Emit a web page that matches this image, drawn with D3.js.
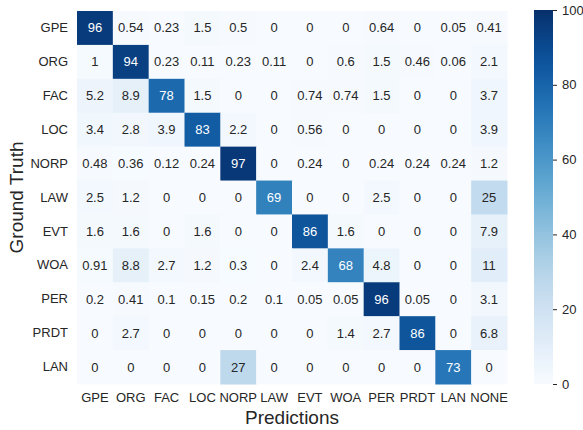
<!DOCTYPE html>
<html>
<head>
<meta charset="utf-8">
<script src="https://cdn.jsdelivr.net/npm/d3@7"></script>
<style>
  body { margin: 0; background: #fff; }
  svg { font-family: "Liberation Sans", Arial, sans-serif; }
</style>
</head>
<body>
<svg id="chart" width="583" height="430"></svg>
<script>
const labels = ['GPE', 'ORG', 'FAC', 'LOC', 'NORP', 'LAW', 'EVT', 'WOA', 'PER', 'PRDT', 'LAN', 'NONE']
const truthLabels = ['GPE', 'ORG', 'FAC', 'LOC', 'NORP', 'LAW', 'EVT', 'WOA', 'PER', 'PRDT', 'LAN']

// rows = ground truth, columns = predictions (percent)
const matrix = [
    [96, 0.54, 0.23, 1.5, 0.5, 0, 0, 0, 0.64, 0, 0.05, 0.41],
    [1, 94, 0.23, 0.11, 0.23, 0.11, 0, 0.6, 1.5, 0.46, 0.06, 2.1],
    [5.2, 8.9, 78, 1.5, 0, 0, 0.74, 0.74, 1.5, 0, 0, 3.7],
    [3.4, 2.8, 3.9, 83, 2.2, 0, 0.56, 0, 0, 0, 0, 3.9],
    [0.48, 0.36, 0.12, 0.24, 97, 0, 0.24, 0, 0.24, 0.24, 0.24, 1.2],
    [2.5, 1.2, 0, 0, 0, 69, 0, 0, 2.5, 0, 0, 25],
    [1.6, 1.6, 0, 1.6, 0, 0, 86, 1.6, 0, 0, 0, 7.9],
    [0.91, 8.8, 2.7, 1.2, 0.3, 0, 2.4, 68, 4.8, 0, 0, 11],
    [0.2, 0.41, 0.1, 0.15, 0.2, 0.1, 0.05, 0.05, 96, 0.05, 0, 3.1],
    [0, 2.7, 0, 0, 0, 0, 0, 1.4, 2.7, 86, 0, 6.8],
    [0, 0, 0, 0, 27, 0, 0, 0, 0, 0, 73, 0]
]

const colorTicks = [0, 20, 40, 60, 80, 100]

const svg = d3.select('#chart')
const textColor = '#262626'

const dims = { left: 77, right: 507, top: 11, bottom: 384 }

const x = d3.scaleBand().domain(labels).range([dims.left, dims.right])
const y = d3.scaleBand().domain(truthLabels).range([dims.top, dims.bottom])
const color = d3.scaleSequential(d3.interpolateBlues).domain([0, 100])

const cells = []
matrix.forEach((row, i) => {
    row.forEach((v, j) => cells.push({ truth: truthLabels[i], pred: labels[j], value: v }))
})

/// cells ////////
const cellGroup = svg.append('g')
cellGroup.selectAll('rect')
    .data(cells)
    .join('rect')
    .attr('x', d => x(d.pred))
    .attr('y', d => y(d.truth))
    .attr('width', x.bandwidth() + 0.5)
    .attr('height', y.bandwidth() + 0.5)
    .attr('fill', d => color(d.value))

cellGroup.selectAll('text')
    .data(cells)
    .join('text')
    .attr('x', d => x(d.pred) + x.bandwidth() / 2)
    .attr('y', d => y(d.truth) + y.bandwidth() / 2)
    .attr('text-anchor', 'middle')
    .attr('dominant-baseline', 'central')
    .attr('font-size', 13)
    .attr('fill', d => d.value > 55 ? '#fff' : textColor)
    .text(d => d.value)

/// axes ////////
const xAxis = svg.append('g')
    .attr('transform', `translate(0,${dims.bottom})`)
    .call(d3.axisBottom(x).tickSize(0).tickPadding(9))
xAxis.select('.domain').remove()
xAxis.selectAll('text').attr('font-size', 13).attr('fill', textColor).attr('font-family', null)

const yAxis = svg.append('g')
    .attr('transform', `translate(${dims.left},0)`)
    .call(d3.axisLeft(y).tickSize(0).tickPadding(9))
yAxis.select('.domain').remove()
yAxis.selectAll('text').attr('font-size', 13).attr('fill', textColor).attr('font-family', null)

svg.append('text')
    .attr('x', (dims.left + dims.right) / 2)
    .attr('y', 424)
    .attr('text-anchor', 'middle')
    .attr('font-size', 19)
    .attr('fill', textColor)
    .text('Predictions')

svg.append('text')
    .attr('transform', `translate(23,${(dims.top + dims.bottom) / 2}) rotate(-90)`)
    .attr('text-anchor', 'middle')
    .attr('font-size', 19)
    .attr('fill', textColor)
    .text('Ground Truth')

/// colour bar ////////
const bar = { x: 534, w: 19 }
const cScale = d3.scaleLinear().domain([0, 100]).range([dims.bottom, dims.top - 1])

const defs = svg.append('defs')
const grad = defs.append('linearGradient')
    .attr('id', 'cbar')
    .attr('x1', 0).attr('y1', 1).attr('x2', 0).attr('y2', 0)
grad.selectAll('stop')
    .data(d3.range(0, 1.0001, 0.05))
    .join('stop')
    .attr('offset', d => d)
    .attr('stop-color', d => color(d * 100))

svg.append('rect')
    .attr('x', bar.x)
    .attr('y', dims.top - 1)
    .attr('width', bar.w)
    .attr('height', dims.bottom - dims.top + 1)
    .attr('fill', 'url(#cbar)')

const cAxis = svg.append('g')
    .attr('transform', `translate(${bar.x + bar.w},0)`)
    .call(d3.axisRight(cScale).tickValues(colorTicks).tickSize(4).tickPadding(5))
cAxis.select('.domain').remove()
cAxis.selectAll('line').attr('stroke', textColor)
cAxis.selectAll('text').attr('font-size', 13).attr('fill', textColor).attr('font-family', null)
</script>
</body>
</html>
